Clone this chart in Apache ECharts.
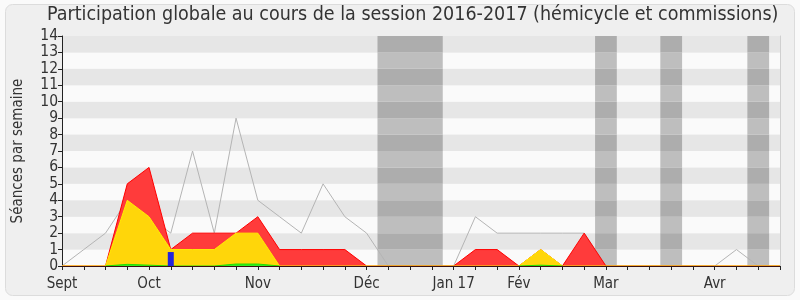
<!DOCTYPE html>
<html><head><meta charset="utf-8">
<script src="https://cdn.jsdelivr.net/npm/echarts@6/dist/echarts.min.js"></script>
<style>html,body{margin:0;padding:0;background:#fafafa;}#c{width:800px;height:300px;}</style>
</head><body><div id="c"></div>
<script>
const weekLabels = ['Sept','','','','Oct','','','','','Nov','','','','','Déc','','','','Jan 17','','','Fév','','','','Mar','','','','','Avr','','',''];
const grayLine = [0,1,2,4,3,2,7,2,9,4,3,2,5,3,2,0,0,0,0,3,2,2,2,2,2,0,0,0,0,0,0,1,0,0];
const redArea  = [0,0,0,5,6,1,2,2,2,3,1,1,1,1,0,0,0,0,0,1,1,0,1,0,2,0,0,0,0,0,0,0,0,0];
const yellowArea = [0,0,0,4,3,1,1,1,2,2,0,0,0,0,0,0,0,0,0,0,0,0,1,0,0,0,0,0,0,0,0,0,0,0];
const greenArea = [null,null,0,0.1,0.05,0,0,0,0.12,0.12,0,null,null,null,null,null,null,null,null,null,null,0,0.05,0,null,null,null,null,null,null,null,null,null,null];
const blueBars = [0,0,0,0,0,0.85,0,0,0,0,0,0,0,0,0,0,0,0,0,0,0,0,0,0,0,0,0,0,0,0,0,0,0,0];
const vacationBands = [[14.5,17.5],[24.5,25.5],[27.5,28.5],[31.5,32.5]];
const yTicks = [0,1,2,3,4,5,6,7,8,9,10,11,12,13,14];

const FONT = 'DejaVu Sans Condensed';
const bandAreas = [];
vacationBands.forEach(b => {
  for (let k = 0; k < yTicks.length - 1; k++) {
    bandAreas.push([{xAxis: b[0], yAxis: yTicks[k], itemStyle: {color: k % 2 === 1 ? '#adadad' : '#bebebe'}}, {xAxis: b[1], yAxis: yTicks[k+1]}]);
  }
});

const chart = echarts.init(document.getElementById('c'), null, {renderer: 'canvas'});
chart.setOption({
  animation: false,
  backgroundColor: 'transparent',
  graphic: [{type: 'rect', z: -10, shape: {x: 5.5, y: 4.5, width: 789, height: 291, r: 7},
    style: {fill: '#efefef', stroke: '#dcdcdc', lineWidth: 1}}],
  title: {text: 'Participation globale au cours de la session 2016-2017 (hémicycle et commissions)',
    left: 47, top: 5, padding: 0,
    textStyle: {fontFamily: FONT, fontSize: 19.5, fontWeight: 'normal', color: '#333'}},
  grid: {left: 62, right: 20, top: 36, bottom: 34, containLabel: false},
  xAxis: [
    {type: 'category', data: weekLabels, boundaryGap: false, position: 'bottom', z: 10,
      axisLine: {show: true, lineStyle: {color: '#3a1010', width: 1}},
      axisTick: {show: true, interval: 0, inside: false, length: 4, lineStyle: {color: '#222'}},
      axisLabel: {interval: 0, fontFamily: FONT, fontSize: 15, color: '#333', margin: 11},
      splitLine: {show: false}},
    {type: 'category', data: weekLabels, boundaryGap: false, position: 'top',
      axisLine: {show: true, lineStyle: {color: '#d0d0d0', width: 1}},
      axisTick: {show: true, interval: 0, inside: true, length: 2, lineStyle: {color: '#444'}},
      axisLabel: {show: false}, splitLine: {show: false}},
    {type: 'value', min: 0, max: 33, show: false}
  ],
  yAxis: [
    {type: 'value', min: 0, max: 14, interval: 1,
      name: 'Séances par semaine', nameLocation: 'middle', nameGap: 36,
      nameTextStyle: {fontFamily: FONT, fontSize: 15, color: '#333'},
      axisLine: {show: true, lineStyle: {color: '#222'}},
      axisTick: {show: true, inside: false, length: 4, lineStyle: {color: '#222'}},
      axisLabel: {fontFamily: FONT, fontSize: 15.5, color: '#333', margin: 4},
      splitLine: {show: false},
      splitArea: {show: true, areaStyle: {color: ['#fafafa', '#e6e6e6']}}},
    {type: 'value', min: 0, max: 14, interval: 1, position: 'right',
      axisLine: {show: true, lineStyle: {color: '#d0d0d0'}},
      axisTick: {show: false}, axisLabel: {show: false}, splitLine: {show: false}}
  ],
  series: [
    {type: 'line', xAxisIndex: 2, yAxisIndex: 0, data: [[0,0],[33,0]], showSymbol: false, silent: true,
      lineStyle: {width: 0, opacity: 0}, z: 1,
      markArea: {silent: true, data: bandAreas}},
    {type: 'line', data: grayLine, showSymbol: false, z: 2,
      lineStyle: {color: '#b4b4b4', width: 1}},
    {type: 'line', data: redArea, showSymbol: false, z: 3,
      lineStyle: {color: '#ff0000', width: 1}, areaStyle: {color: '#ff3b3b', opacity: 1}},
    {type: 'line', data: yellowArea, showSymbol: false, z: 4,
      lineStyle: {color: '#ffee00', width: 1}, areaStyle: {color: '#ffd60a', opacity: 1}},
    {type: 'line', data: greenArea, showSymbol: false, z: 5, connectNulls: false,
      lineStyle: {color: '#22dd00', width: 1}, areaStyle: {color: '#33ee22', opacity: 1}},
    {type: 'bar', data: blueBars, barWidth: 6, z: 6, itemStyle: {color: '#2424dd'}}
  ]
});
</script></body></html>
